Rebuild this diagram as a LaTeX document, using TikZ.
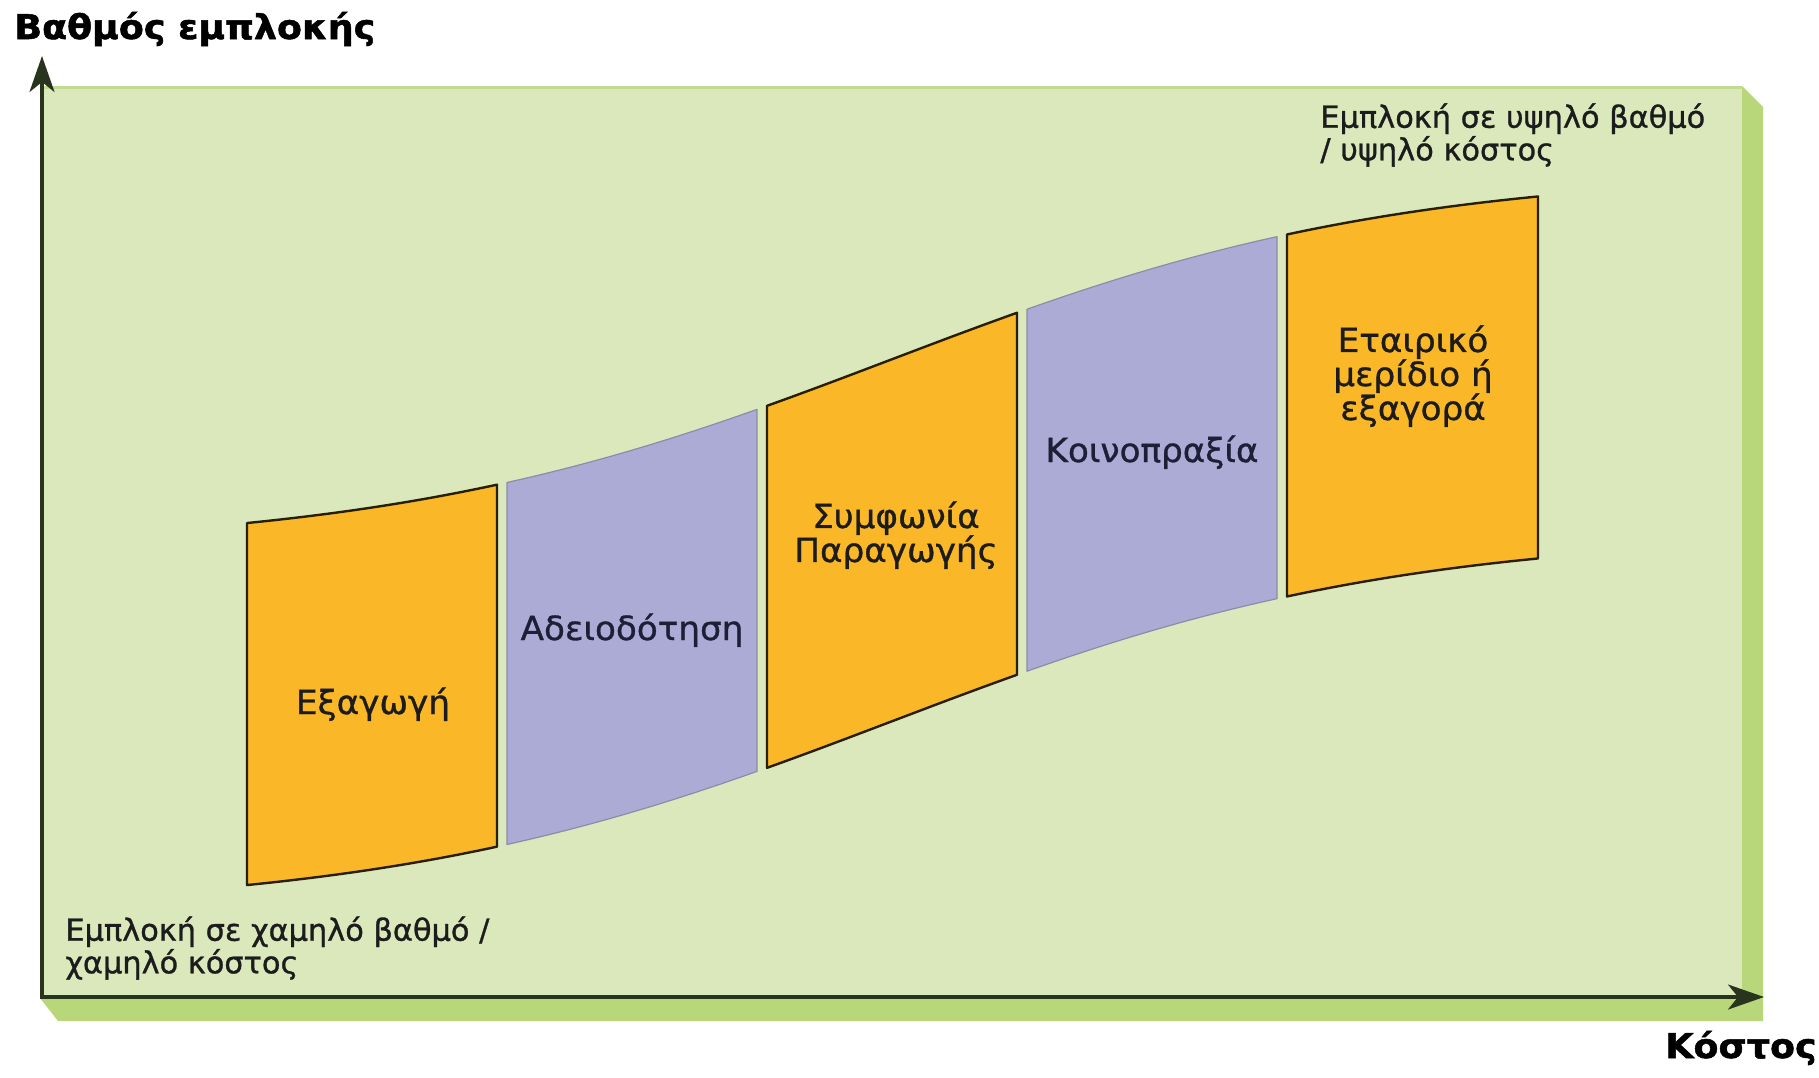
\documentclass[tikz,border=0pt]{standalone}
\usepackage{fontspec}
\setmainfont{DejaVu Sans}
\newfontfamily\medfont[FakeBold=1]{DejaVu Sans}
\newfontfamily\blockfont[FakeBold=1,FakeStretch=1.03]{DejaVu Sans}
\newfontfamily\heavyfont[FakeBold=1.5,FakeStretch=1.07]{DejaVu Sans Bold}
\usetikzlibrary{arrows.meta}
\definecolor{panel}{RGB}{218,232,188}
\definecolor{panelshadow}{RGB}{184,214,122}
\definecolor{paneltop}{RGB}{194,219,142}
\definecolor{orangeblk}{RGB}{250,183,40}
\definecolor{purpleblk}{RGB}{172,171,214}
\definecolor{purpleedge}{RGB}{140,140,170}
\definecolor{orangeedge}{RGB}{40,30,12}
\definecolor{axiscol}{RGB}{40,52,30}
\definecolor{txt}{RGB}{28,28,28}
\definecolor{txtp}{RGB}{30,30,55}
\begin{document}
\begin{tikzpicture}[x=0.5pt,y=-0.5pt,
  declare function={ftop(\x)=550-380/(1+exp(-(\x-890)/250));},
  orangeblock/.style={fill=orangeblk,draw=orangeedge,line width=1.2pt,line join=round},
  purpleblock/.style={fill=purpleblk,draw=purpleedge,line width=0.6pt,line join=round},
  blocktext/.style={font=\blockfont\fontsize{16.6}{17}\selectfont,text=txt,align=center,inner sep=0pt},
  purpletext/.style={blocktext,text=txtp},
  cornertext/.style={font=\medfont\fontsize{15.2}{16.3}\selectfont,text=txt,align=left,inner sep=0pt},
  axistitle/.style={font=\heavyfont\fontsize{17}{19}\selectfont,text=black,inner sep=0pt},
  axisline/.style={draw=axiscol,line width=1.6pt,-{Stealth[length=18pt,width=12.5pt,inset=5pt]}}
]
\useasboundingbox (0,0) rectangle (1819,1077);
% panel with its shadow
\fill[panelshadow] (1742,86) -- (1763,107) -- (1763,1021) -- (58,1021) -- (40,998) -- cycle;
\fill[panel] (42,86) rectangle (1742,997);
\draw[paneltop,line width=1.5pt] (42,87) -- (1742,87);
% blocks
\foreach \a/\b/\s in {247/497/orangeblock,507/757/purpleblock,767/1017/orangeblock,1027/1277/purpleblock,1287/1538/orangeblock}
  \path[\s] plot[domain=\a:\b,samples=40] (\x,{ftop(\x)}) -- plot[domain=\b:\a,samples=40] (\x,{ftop(\x)+362}) -- cycle;
% axes
\coordinate (origin) at (42,997);
\coordinate (ytip) at (42,56);
\coordinate (xtip) at (1764,997);
\draw[axisline] (origin) -- (ytip);
\draw[axisline] (40,997) -- (xtip);
% labels
\node[axistitle,anchor=base west] (ytitle) at (14,39) {Βαθμός εμπλοκής};
\node[axistitle,anchor=base east] (xtitle) at (1817,1058) {Κόστος};
\node[cornertext,anchor=north west] (high) at (1320,103) {Εμπλοκή σε υψηλό βαθμό\\/ υψηλό κόστος};
\node[cornertext,anchor=north west] (low) at (65,916) {Εμπλοκή σε χαμηλό βαθμό /\\χαμηλό κόστος};
\node[blocktext,anchor=base] (export) at (373,714) {Εξαγωγή};
\node[purpletext,anchor=base] (licence) at (632,640) {Αδειοδότηση};
\node[blocktext,anchor=north] (contract) at (896,501) {Συμφωνία\\Παραγωγής};
\node[purpletext,anchor=base] (joint) at (1152,462) {Κοινοπραξία};
\node[blocktext,anchor=north] (share) at (1413,325) {Εταιρικό\\μερίδιο ή\\εξαγορά};
\end{tikzpicture}
\end{document}
